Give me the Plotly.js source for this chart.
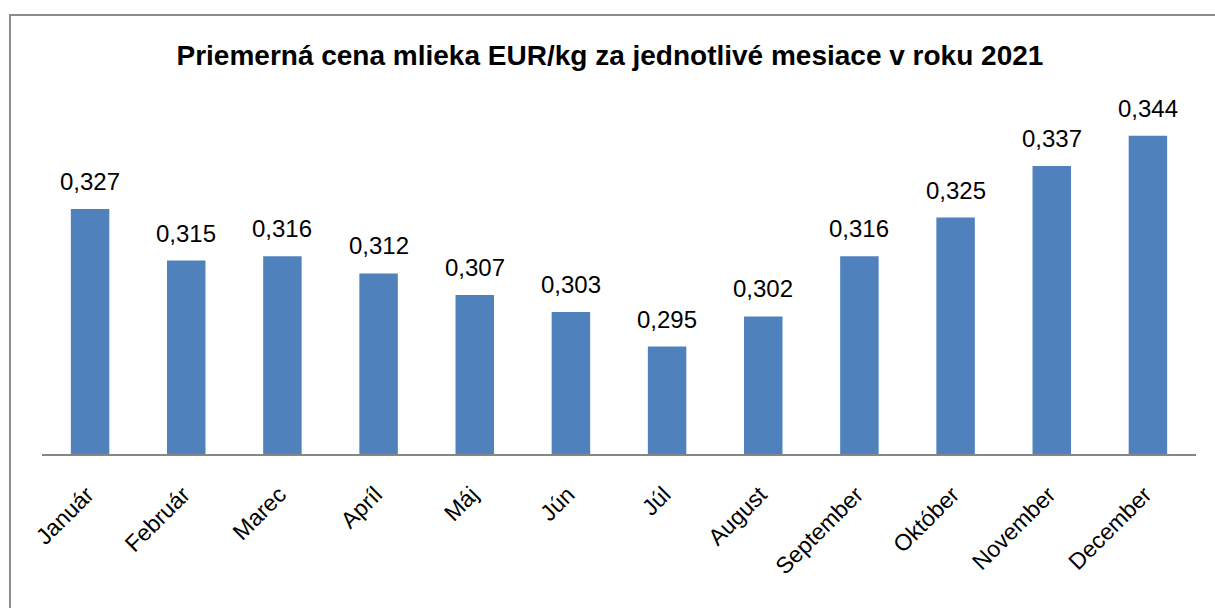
<!DOCTYPE html>
<html>
<head>
<meta charset="utf-8">
<script src="https://cdn.plot.ly/plotly-3.0.1.min.js"></script>
<style>
  html, body { margin: 0; padding: 0; background: #ffffff; overflow: hidden; }
  #chart { position: absolute; left: 0; top: 0; width: 1215px; height: 608px; }
  #frame { position: absolute; left: 9px; top: 14px; width: 1220px; height: 610px;
           border: 2px solid #8c8c8c; pointer-events: none; box-sizing: border-box; }
</style>
</head>
<body>
<div id="chart"></div>
<div id="frame"></div>
<script>
const months = ["Január", "Február", "Marec", "Apríl", "Máj", "Jún", "Júl", "August", "September", "Október", "November", "December"];
const prices = [0.327, 0.315, 0.316, 0.312, 0.307, 0.303, 0.295, 0.302, 0.316, 0.325, 0.337, 0.344];
const chartTitle = "Priemerná cena mlieka EUR/kg za jednotlivé mesiace v roku 2021";

const fmt = v => v.toFixed(3).replace(".", ",");

const trace = {
  type: "bar",
  x: months,
  y: prices,
  marker: { color: "#4f81bd" },
  hoverinfo: "none"
};

const annotations = months.map((m, i) => ({
  x: m,
  y: prices[i],
  xref: "x",
  yref: "y",
  text: fmt(prices[i]),
  showarrow: false,
  yanchor: "bottom",
  yshift: 12,
  font: { family: "Liberation Sans, Arial, sans-serif", size: 24, color: "#000000" }
}));

const layout = {
  width: 1215,
  height: 608,
  margin: { l: 42, r: 19, t: 110, b: 154, pad: 0 },
  paper_bgcolor: "#ffffff",
  plot_bgcolor: "#ffffff",
  showlegend: false,
  bargap: 0.6,
  title: {
    text: "<b>" + chartTitle + "</b>",
    xref: "container",
    yref: "container",
    x: 0.502,
    y: 1 - 55 / 608,
    xanchor: "center",
    yanchor: "middle",
    font: { family: "Liberation Sans, Arial, sans-serif", size: 28, color: "#000000" }
  },
  xaxis: {
    type: "category",
    tickangle: -45,
    showline: true,
    linecolor: "#868686",
    linewidth: 2,
    ticks: "",
    ticklabelstandoff: 16,
    ticklabelshift: -3,
    showgrid: false,
    zeroline: false,
    tickfont: { family: "Liberation Sans, Arial, sans-serif", size: 23, color: "#000000" }
  },
  yaxis: {
    range: [0.27, 0.35],
    visible: false,
    showgrid: false,
    zeroline: false
  },
  annotations: annotations
};

Plotly.newPlot("chart", [trace], layout, { staticPlot: true, displayModeBar: false });
</script>
</body>
</html>
